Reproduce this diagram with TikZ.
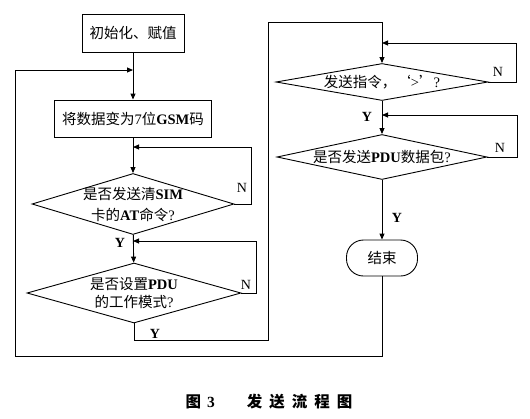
\documentclass[tikz,border=0pt]{standalone}
\usepackage{fontspec}
\setmainfont{Liberation Serif}
\newfontfamily\cjk{Noto Sans CJK SC}
\usetikzlibrary{arrows.meta,shapes.geometric}
\newcommand{\zh}[1]{{\cjk #1}}
\begin{document}
\begin{tikzpicture}[x=1pt,y=-1pt, line width=0.9pt,
  font=\fontsize{14.5}{18}\selectfont,
  box/.style={draw, rectangle, inner sep=0pt},
  dia/.style={draw, diamond, inner sep=0pt},
  term/.style={draw, rectangle, rounded corners=17pt, inner sep=0pt},
  txt/.style={align=center, inner sep=0pt},
  arr/.style={-{Triangle[length=6pt,width=5pt]}},
  lbl/.style={inner sep=0pt, font=\fontsize{14}{16}\selectfont\bfseries},
  nlbl/.style={inner sep=0pt, font=\fontsize{14}{16}\selectfont}]
\useasboundingbox (0,0) rectangle (530,418);

% nodes
\node[box, minimum width=102pt, minimum height=38pt] (init) at (133,33) {\zh{初始化、赋值}};
\node[box, minimum width=157pt, minimum height=37pt] (conv) at (133,118.5) {\zh{将数据变为}7\zh{位}\textbf{GSM}\zh{码}};
\node[dia, minimum width=202pt, minimum height=61pt] (d1) at (133,204) {};
\node[txt, font=\fontsize{14.5}{21}\selectfont] (t1) at (d1) {\zh{是否发送清}\textbf{SIM}\\\zh{卡的}\textbf{AT}\zh{命令}?};
\node[dia, minimum width=214pt, minimum height=60pt] (d2) at (134,293) {};
\node[txt, font=\fontsize{14.5}{18.5}\selectfont] (t2) at (d2) {\zh{是否设置}\textbf{PDU}\\\zh{的工作模式}?};
\node[dia, minimum width=212pt, minimum height=37pt] (d3) at (382,82) {};
\node[txt] (t3) at (d3) {\zh{发送指令，‘}>\zh{’}?};
\node[dia, minimum width=210pt, minimum height=45pt] (d4) at (382,157) {};
\node[txt] (t4) at (d4) {\zh{是否发送}\textbf{PDU}\zh{数据包}?};
\node[term, minimum width=71pt, minimum height=36pt] (end) at (382,258) {\zh{结束}};

% merge points and corners
\coordinate (m1) at (133,70);
\coordinate (m2) at (133,147);
\coordinate (m3) at (133,241);
\coordinate (m4) at (382,43);
\coordinate (m5) at (382,115);
\coordinate (bl) at (15,356);
\coordinate (p1) at (268,340);
\coordinate (p2) at (268,22);

% main flow
\draw[arr] (init) -- (conv);
\draw[arr] (conv) -- (d1);
\draw[arr] (d1) -- (d2);
\draw[arr] (d2.south) |- (p1) -- (p2) -| (d3.north);
\draw[arr] (d3) -- (d4);
\draw[arr] (d4) -- (end);

% loops
\draw[arr] (end.south) |- (bl) |- (m1);
\draw[arr] (d1.east) -- ++(17,0) |- (m2);
\draw[arr] (d2.east) -- ++(15,0) |- (m3);
\draw[arr] (d3.east) -- ++(28,0) |- (m4);
\draw[arr] (d4.east) -- ++(30,0) |- (m5);

% labels
\node[nlbl] (n1) at (242,188) {N};
\node[nlbl] (n2) at (246,285) {N};
\node[nlbl] (n3) at (498,72) {N};
\node[nlbl] (n4) at (500,148) {N};
\node[lbl] (y1) at (120,243) {Y};
\node[lbl] (y2) at (155,334) {Y};
\node[lbl] (y3) at (367,117) {Y};
\node[lbl] (y4) at (397,218) {Y};

% caption
\node[inner sep=0pt, font=\fontsize{15.5}{18}\selectfont] (cap) at (269,402)
  {\zh{\bfseries 图}\hspace{6pt}\textbf{3}\hspace{32pt}\zh{\bfseries 发}\hspace{7pt}\zh{\bfseries 送}\hspace{7pt}\zh{\bfseries 流}\hspace{7pt}\zh{\bfseries 程}\hspace{7pt}\zh{\bfseries 图}};
\end{tikzpicture}
\end{document}
